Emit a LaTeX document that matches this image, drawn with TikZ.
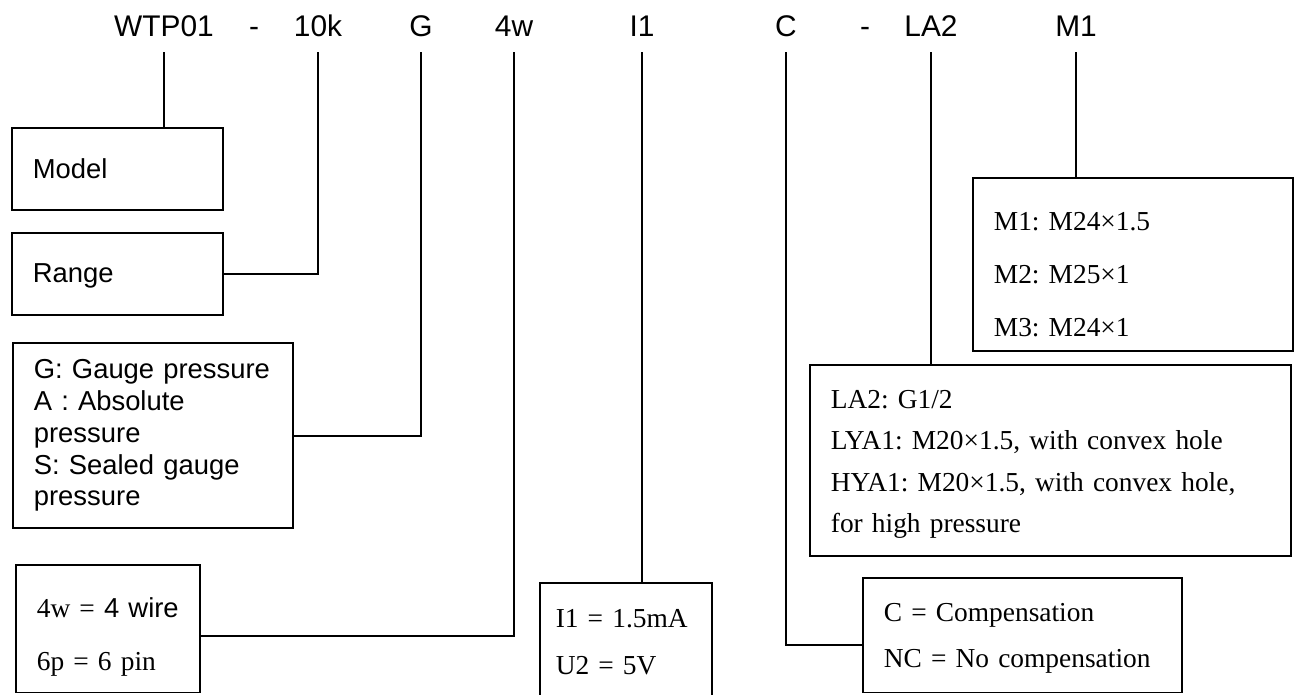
\documentclass[tikz,border=0pt]{standalone}
\usepackage{fontspec}
\setmainfont{Liberation Serif}
\setsansfont{Liberation Sans}
\usepackage{tikz}
\usetikzlibrary{calc}
\frenchspacing

\newcommand{\firstlift}[1]{\rule{0pt}{#1}}

\tikzset{
  code/.style={font=\sffamily\fontsize{17}{20}\selectfont, inner sep=0pt, text depth=8.5pt, anchor=base},
  infobox/.style={draw, line width=1.1pt, anchor=north west, inner xsep=11.9pt, inner ysep=0pt, align=left},
  link/.style={line width=1.1pt},
}

\begin{document}
\begin{tikzpicture}[x=0.02cm, y=-0.02cm]
  \path[use as bounding box, fill=white] (0,0) rectangle (1294,695);

  % order code
  \node[code] (wtp) at (164,37) {WTP01};
  \node[code] (dash1) at (254,37) {-};
  \node[code] (rng) at (318,37) {10k};
  \node[code] (g) at (421,37) {G};
  \node[code] (fw) at (514,37) {4w};
  \node[code] (ione) at (642,37) {I1};
  \node[code] (c) at (786,37) {C};
  \node[code] (dash2) at (865,37) {-};
  \node[code] (la) at (931,37) {LA2};
  \node[code] (mone) at (1076,37) {M1};

  % explanation boxes
  \node[infobox, font=\sffamily\fontsize{15.6}{18.1}\selectfont, text width=96.4pt, minimum height=46.5pt] (model) at (11,127) {Model};
  \node[infobox, font=\sffamily\fontsize{15.6}{18.1}\selectfont, text width=96.4pt, minimum height=46.5pt] (range) at (11,232) {\firstlift{13pt}Range};
  \node[infobox, font=\sffamily\fontsize{15.6}{18.1}\selectfont, text width=135.5pt, minimum height=105.4pt] (gtype) at (12,342)
    {G: Gauge pressure\\A : Absolute\\pressure\\S: Sealed gauge\\pressure};
  \node[infobox, font=\rmfamily\fontsize{15.6}{30.6}\selectfont, text width=81.1pt, minimum height=72.6pt] (wire) at (15,564)
    {\firstlift{20.7pt}4w = {\sffamily 4 wire}\\6p = 6 pin};
  \node[infobox, font=\rmfamily\fontsize{15.6}{26.6}\selectfont, text width=80pt, inner xsep=9pt, minimum height=67.5pt] (sig) at (539,582)
    {I1 = 1.5mA\\U2 = 5V};
  \node[infobox, font=\rmfamily\fontsize{15.6}{26.1}\selectfont, text width=157.6pt, minimum height=65.2pt] (comp) at (862,577)
    {\firstlift{13.5pt}C = Compensation\\NC = No compensation};
  \node[infobox, font=\rmfamily\fontsize{15.6}{23.6}\selectfont, text width=250pt, minimum height=108.8pt] (port) at (809,364)
    {\firstlift{14.5pt}LA2: G1/2\\LYA1: M20×1.5, with convex hole\\HYA1: M20×1.5, with convex hole,\\for high pressure};
  \node[infobox, font=\rmfamily\fontsize{15.6}{30.3}\selectfont, text width=158.2pt, minimum height=98.6pt] (thread) at (972,177)
    {\firstlift{21.8pt}M1: M24×1.5\\M2: M25×1\\M3: M24×1};

  % connectors
  \draw[link] (wtp.south) -- (wtp.south |- model.north);
  \draw[link] (rng.south) |- (range.east);
  \draw[link] (g.south) |- (gtype.east);
  \draw[link] (fw.south) |- ($(wire.north east)!0.555!(wire.south east)$);
  \draw[link] (ione.south) -- (ione.south |- sig.north);
  \draw[link] (c.south) |- ($(comp.north west)!0.58!(comp.south west)$);
  \draw[link] (la.south) -- (la.south |- port.north);
  \draw[link] (mone.south) -- (mone.south |- thread.north);
\end{tikzpicture}
\end{document}
